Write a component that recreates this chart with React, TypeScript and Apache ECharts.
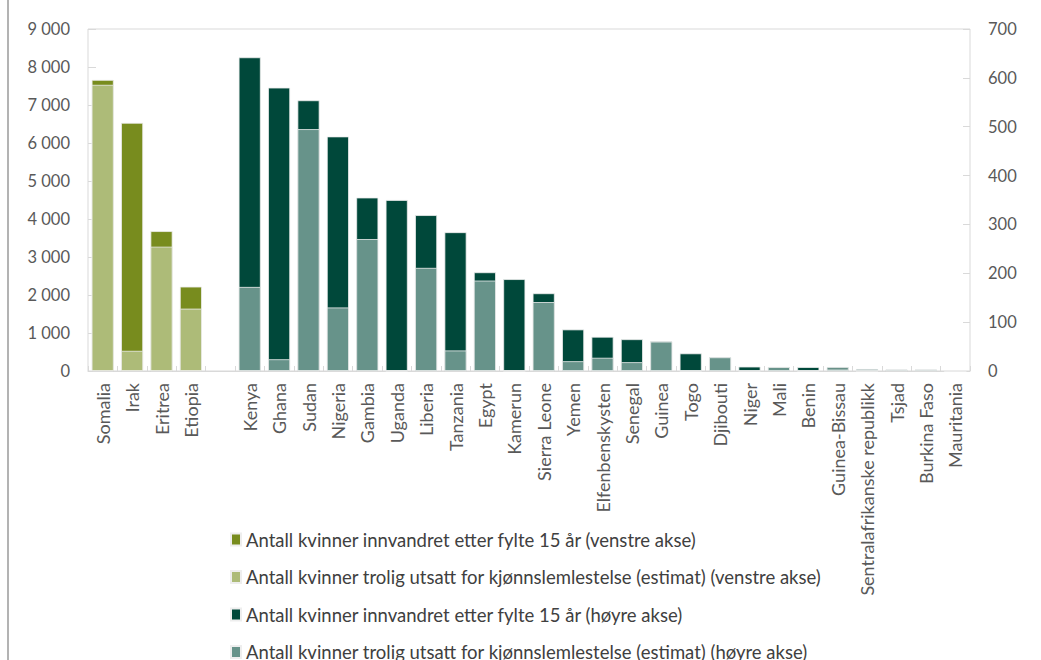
import React, { useEffect, useRef } from "react";
import * as echarts from "echarts";

const categories = [
  "Somalia", "Irak", "Eritrea", "Etiopia", "",
  "Kenya", "Ghana", "Sudan", "Nigeria", "Gambia", "Uganda", "Liberia", "Tanzania",
  "Egypt", "Kamerun", "Sierra Leone", "Yemen", "Elfenbenskysten", "Senegal", "Guinea",
  "Togo", "Djibouti", "Niger", "Mali", "Benin", "Guinea-Bissau",
  "Sentralafrikanske republikk", "Tsjad", "Burkina Faso", "Mauritania",
];

// Left axis (first four countries)
const leftTotal = [7660, 6530, 3680, 2220];
const leftEstimate = [7530, 530, 3270, 1640];

// Right axis (Kenya .. Mauritania)
const rightTotal = [642, 580, 554, 480, 355, 350, 319, 284, 202, 188, 159, 85, 70, 65, 61, 36, 28, 9, 8, 8, 8, 4, 3, 3, 0];
const rightEstimate = [172, 24, 495, 130, 270, 0, 211, 42, 185, 0, 141, 20, 27, 18, 60, 0, 28, 0, 8, 0, 5, 0, 3, 3, 0];

const leftTicks = [0, 1000, 2000, 3000, 4000, 5000, 6000, 7000, 8000, 9000];
const rightTicks = [0, 100, 200, 300, 400, 500, 600, 700];

const seriesNames = [
  "Antall kvinner innvandret etter fylte 15 år (venstre akse)",
  "Antall kvinner trolig utsatt for kjønnslemlestelse (estimat) (venstre akse)",
  "Antall kvinner innvandret etter fylte 15 år (høyre akse)",
  "Antall kvinner trolig utsatt for kjønnslemlestelse (estimat) (høyre akse)",
];

const colors = ["#788c1e", "#adbb78", "#00483a", "#67938a"];

const FONT = "Lato";

export default function App() {
  const ref = useRef<HTMLDivElement>(null);

  useEffect(() => {
    if (!ref.current) return;
    const chart = echarts.init(ref.current, undefined, { renderer: "svg" });

    const nCat = categories.length;
    const padLeft = (arr: number[]) => {
      const out: (number | string)[] = [];
      for (let i = 0; i < nCat; i++) out.push(i < arr.length ? arr[i] : "-");
      return out;
    };
    const padRight = (arr: number[]) => {
      const out: (number | string)[] = [];
      const offset = nCat - arr.length;
      for (let i = 0; i < nCat; i++) out.push(i >= offset ? arr[i - offset] : "-");
      return out;
    };

    const fmt = (v: number) => {
      const s = String(Math.round(v));
      return s.replace(/\B(?=(\d{3})+(?!\d))/g, " ");
    };

    const barBase = {
      type: "bar" as const,
      barGap: "-100%",
      barCategoryGap: "25%",
      itemStyle: { borderColor: "#eeeeee", borderWidth: 0.8 },
    };

    chart.setOption({
      animation: false,
      textStyle: { fontFamily: FONT },
      graphic: [
        {
          type: "line",
          shape: { x1: 8, y1: 0, x2: 8, y2: 660 },
          style: { stroke: "#9a9a9a", lineWidth: 1.5 },
        },
      ],
      grid: { left: 88, right: 71, top: 29, bottom: 289, show: true, borderColor: "#d9d9d9", borderWidth: 1 },
      legend: {
        orient: "vertical",
        left: 230,
        top: 530,
        height: 200,
        padding: 0,
        itemWidth: 10,
        itemHeight: 12,
        itemGap: 18.5,
        icon: "rect",
        textStyle: { fontFamily: FONT, fontSize: 18.5, color: "#404040" },
        data: seriesNames,
      },
      xAxis: {
        type: "category",
        data: categories,
        axisLine: { show: true, lineStyle: { color: "#d9d9d9" } },
        axisTick: { show: true, inside: true, length: 5, lineStyle: { color: "#d9d9d9" }, interval: 0 },
        axisLabel: { interval: 0, rotate: 90, fontSize: 18, color: "#595959", margin: 12, fontFamily: FONT },
      },
      yAxis: [
        {
          type: "value",
          min: leftTicks[0],
          max: leftTicks[leftTicks.length - 1],
          interval: 1000,
          position: "left",
          splitLine: { show: false },
          axisLine: { show: false },
          axisTick: { show: true, inside: true, length: 8, lineStyle: { color: "#d9d9d9" } },
          axisLabel: { formatter: fmt, fontSize: 16.5, color: "#595959", margin: 18, fontFamily: FONT },
        },
        {
          type: "value",
          min: rightTicks[0],
          max: rightTicks[rightTicks.length - 1],
          interval: 100,
          position: "right",
          splitLine: { show: false },
          axisLine: { show: false },
          axisTick: { show: true, inside: true, length: 7, lineStyle: { color: "#d9d9d9" } },
          axisLabel: { fontSize: 16.5, color: "#595959", margin: 18, fontFamily: FONT },
        },
      ],
      series: [
        { ...barBase, name: seriesNames[0], yAxisIndex: 0, data: padLeft(leftTotal), itemStyle: { ...barBase.itemStyle, color: colors[0] } },
        { ...barBase, name: seriesNames[1], yAxisIndex: 0, data: padLeft(leftEstimate), itemStyle: { ...barBase.itemStyle, color: colors[1] } },
        { ...barBase, name: seriesNames[2], yAxisIndex: 1, data: padRight(rightTotal), itemStyle: { ...barBase.itemStyle, color: colors[2] } },
        { ...barBase, name: seriesNames[3], yAxisIndex: 1, data: padRight(rightEstimate), itemStyle: { ...barBase.itemStyle, color: colors[3] } },
      ],
    });

    return () => chart.dispose();
  }, []);

  return (
    <div
      ref={ref}
      style={{ position: "absolute", left: 0, top: 0, width: 1041, height: 660, background: "#ffffff" }}
    />
  );
}
